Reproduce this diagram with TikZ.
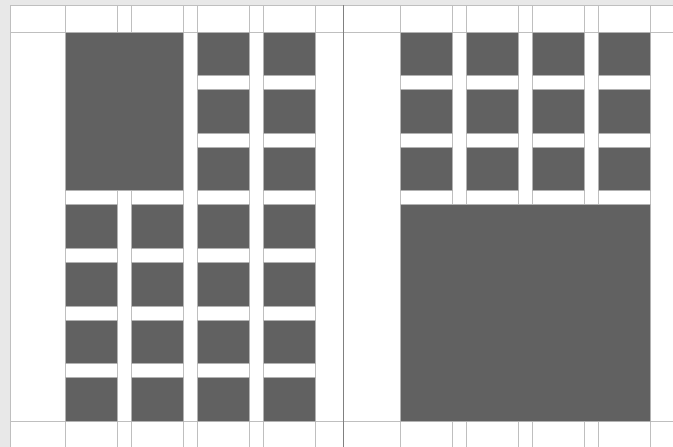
\documentclass[tikz,border=0pt]{standalone}
\begin{document}
\begin{tikzpicture}[x=1pt, y=-1pt,
  guide/.style={draw=black!25, line width=0.7pt},
  spine/.style={draw=black!50, line width=1pt},
  imgblk/.style={fill=black!62, draw=black!30, line width=0.6pt}
]
\useasboundingbox (0,0) rectangle (673,447);
\fill[black!9] (0,0) rectangle (673,447);
\fill[white] (10,5) rectangle (673,447);
% column guides, header and footer lines
\foreach \p in {65,400}
  \foreach \c in {0,...,3}
    \draw[guide] (\p+66*\c,5) -- (\p+66*\c,447) (\p+66*\c+52,5) -- (\p+66*\c+52,447);
\draw[guide] (10,5) -- (673,5) (10,32) -- (673,32) (10,421) -- (673,421) (10,5) -- (10,447);
\draw[spine] (343.5,5) -- (343.5,447);
% left page
\draw[imgblk] (65,32) rectangle (183,190.7);
\foreach \c in {0,1}
  \foreach \r in {3,...,6}
    \draw[imgblk] (65+66*\c,32+57.57*\r) rectangle ++(52,43.57);
\foreach \c in {2,3}
  \foreach \r in {0,...,6}
    \draw[imgblk] (65+66*\c,32+57.57*\r) rectangle ++(52,43.57);
% right page
\foreach \c in {0,...,3}
  \foreach \r in {0,1,2}
    \draw[imgblk] (400+66*\c,32+57.57*\r) rectangle ++(52,43.57);
\draw[imgblk] (400,204.7) rectangle (650,421);
\end{tikzpicture}
\end{document}
